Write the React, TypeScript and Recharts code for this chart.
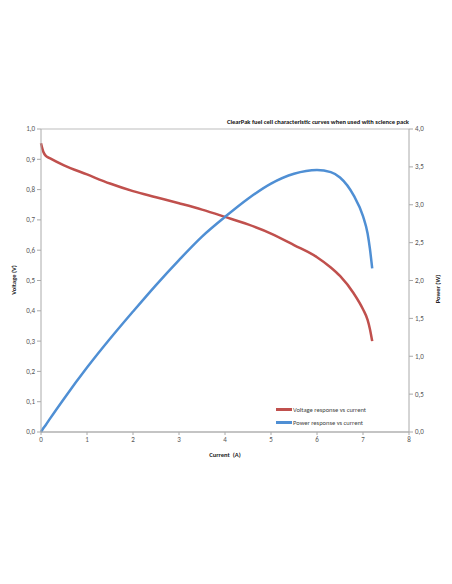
import React from 'react';
import { LineChart, Line, XAxis, YAxis, CartesianGrid } from 'recharts';

// current (A) sample points
const currents = [0, 0.05, 0.1, 0.2, 0.5, 1, 1.5, 2, 2.5, 3, 3.5, 4, 4.5, 5, 5.5, 6, 6.3, 6.5, 6.8, 7, 7.1, 7.15, 7.2];
const voltage = [0.953, 0.925, 0.912, 0.903, 0.88, 0.85, 0.82, 0.795, 0.775, 0.755, 0.734, 0.71, 0.685, 0.655, 0.617, 0.577, 0.543, 0.515, 0.457, 0.405, 0.37, 0.34, 0.3];
const power = [0, 0.05, 0.09, 0.18, 0.44, 0.85, 1.23, 1.59, 1.94, 2.27, 2.58, 2.84, 3.08, 3.28, 3.41, 3.46, 3.43, 3.36, 3.12, 2.85, 2.62, 2.42, 2.16];

const xTicks = [0, 1, 2, 3, 4, 5, 6, 7, 8];
const voltTicks = [0, 0.1, 0.2, 0.3, 0.4, 0.5, 0.6, 0.7, 0.8, 0.9, 1.0];
const powerTicks = [0, 0.5, 1, 1.5, 2, 2.5, 3, 3.5, 4];

const series = [
  { key: 'v', axis: 'v', name: 'Voltage response vs current', color: '#C0504D' },
  { key: 'p', axis: 'p', name: 'Power response vs current', color: '#4F8FD4' },
];

const data = currents.map((i, k) => ({ i, v: voltage[k], p: power[k] }));

const comma = (v: number) => v.toFixed(1).replace('.', ',');
const font = 'Calibri, "Open Sans", "DejaVu Sans", sans-serif';
const tickStyle = { fontSize: 7, fill: '#555', fontFamily: font };

const App = () => {
  return (
    <div style={{ position: 'absolute', left: 0, top: 0, width: 452, height: 584, background: '#fff', fontFamily: font }}>
      <div style={{ position: 'absolute', right: 43, top: 118, fontSize: 6.5, fontWeight: 'bold', color: '#111' }}>
        ClearPak fuel cell characteristic curves when used with science pack
      </div>
      <div style={{ position: 'absolute', left: 14, top: 280, transform: 'translate(-50%,-50%) rotate(-90deg)', fontSize: 6.5, fontWeight: 'bold', color: '#222', whiteSpace: 'nowrap' }}>
        Voltage (V)
      </div>
      <div style={{ position: 'absolute', left: 438, top: 289, transform: 'translate(-50%,-50%) rotate(-90deg)', fontSize: 6.5, fontWeight: 'bold', color: '#222', whiteSpace: 'nowrap' }}>
        Power (W)
      </div>
      <div style={{ position: 'absolute', left: 225, top: 455, transform: 'translate(-50%,-50%)', fontSize: 6.5, fontWeight: 'bold', color: '#222', whiteSpace: 'nowrap' }}>
        Current&nbsp; (A)
      </div>
      <LineChart width={452} height={584} data={data} margin={{ top: 129, right: 13, left: 11, bottom: 132 }}>
        <CartesianGrid vertical={false} stroke="#bdbdbd" strokeWidth={1} />
        <XAxis
          dataKey="i"
          type="number"
          domain={[0, 8]}
          ticks={xTicks}
          height={20}
          tick={tickStyle}
          tickSize={3}
          stroke="#aaa"
          interval={0}
        />
        <YAxis
          yAxisId="v"
          domain={[0, 1]}
          ticks={voltTicks}
          width={30}
          tick={tickStyle}
          tickFormatter={comma}
          tickSize={4}
          stroke="#aaa"
          interval={0}
        />
        <YAxis
          yAxisId="p"
          orientation="right"
          domain={[0, 4]}
          ticks={powerTicks}
          width={30}
          tick={tickStyle}
          tickFormatter={comma}
          tickSize={4}
          stroke="#aaa"
          interval={0}
        />
        {series.map((s) => (
          <Line
            key={s.key}
            yAxisId={s.axis}
            type="monotone"
            dataKey={s.key}
            name={s.name}
            stroke={s.color}
            strokeWidth={2.5}
            dot={false}
            isAnimationActive={false}
          />
        ))}
      </LineChart>
      <div style={{ position: 'absolute', left: 276, top: 403, fontSize: 6.5, color: '#444' }}>
        {series.map((s) => (
          <div key={s.key} style={{ display: 'flex', alignItems: 'center', height: 13 }}>
            <span style={{ display: 'inline-block', width: 16, height: 2.5, background: s.color, marginRight: 1 }} />
            {s.name}
          </div>
        ))}
      </div>
    </div>
  );
};

export default App;
